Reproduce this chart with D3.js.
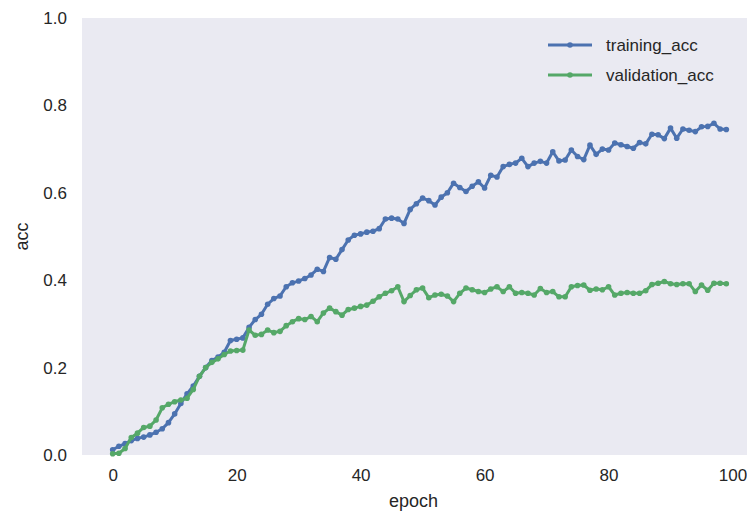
<!DOCTYPE html>
<html>
<head>
<meta charset="utf-8">
<script src="https://cdn.jsdelivr.net/npm/d3@7"></script>
<style>
  body { margin: 0; background: #fff; }
  text { font-family: "Liberation Sans", Arial, sans-serif; fill: #262626; }
</style>
</head>
<body>
<script>
var w = 747; // Width of the picture
var h = 515; // Height of the picture

// Data (epochs 0..99)
var epochs = d3.range(100);
var trainingAcc = [
  0.012, 0.020, 0.026, 0.033, 0.038, 0.041, 0.046, 0.052, 0.060, 0.074,
  0.094, 0.118, 0.140, 0.158, 0.180, 0.200, 0.216, 0.224, 0.235, 0.262,
  0.265, 0.268, 0.292, 0.310, 0.322, 0.345, 0.358, 0.364, 0.385, 0.394,
  0.398, 0.404, 0.412, 0.425, 0.420, 0.452, 0.448, 0.470, 0.492, 0.503,
  0.506, 0.510, 0.512, 0.518, 0.540, 0.542, 0.540, 0.530, 0.562, 0.575,
  0.588, 0.582, 0.572, 0.590, 0.600, 0.622, 0.612, 0.603, 0.615, 0.625,
  0.611, 0.640, 0.636, 0.660, 0.665, 0.668, 0.679, 0.660, 0.668, 0.672,
  0.668, 0.694, 0.673, 0.675, 0.698, 0.683, 0.676, 0.709, 0.688, 0.700,
  0.698, 0.714, 0.710, 0.706, 0.702, 0.715, 0.712, 0.734, 0.733, 0.724,
  0.748, 0.725, 0.746, 0.743, 0.740, 0.751, 0.752, 0.759, 0.746, 0.745
];
var validationAcc = [
  0.003, 0.004, 0.015, 0.040, 0.050, 0.063, 0.066, 0.080, 0.108, 0.116,
  0.122, 0.126, 0.130, 0.150, 0.180, 0.200, 0.212, 0.220, 0.230, 0.238,
  0.239, 0.240, 0.286, 0.274, 0.276, 0.286, 0.280, 0.283, 0.296, 0.305,
  0.312, 0.310, 0.317, 0.305, 0.325, 0.336, 0.328, 0.320, 0.333, 0.336,
  0.340, 0.343, 0.352, 0.362, 0.370, 0.376, 0.385, 0.351, 0.365, 0.378,
  0.382, 0.360, 0.366, 0.368, 0.364, 0.351, 0.370, 0.382, 0.378, 0.374,
  0.372, 0.380, 0.385, 0.374, 0.385, 0.370, 0.372, 0.370, 0.366, 0.381,
  0.372, 0.374, 0.362, 0.362, 0.385, 0.388, 0.389, 0.377, 0.380, 0.378,
  0.385, 0.366, 0.370, 0.372, 0.370, 0.370, 0.376, 0.390, 0.393, 0.397,
  0.392, 0.390, 0.392, 0.392, 0.374, 0.389, 0.377, 0.393, 0.393, 0.392
];
var seriesNames = ["training_acc", "validation_acc"];
var seriesColors = ["#4C72B0", "#55A868"];
var xTicks = [0, 20, 40, 60, 80, 100];
var yTicks = [0.0, 0.2, 0.4, 0.6, 0.8, 1.0];

// Plot area (right edge runs past the picture, as in the reference)
var plotLeft = 82, plotRight = 757, plotTop = 18, plotBottom = 455;

var xScale = d3.scaleLinear()
    .domain([-4.95, 103.95])
    .range([plotLeft, plotRight]);

var yScale = d3.scaleLinear()
    .domain([0, 1])
    .range([plotBottom, plotTop]);

var svg = d3.select("body")
    .append("svg")
    .attr("width", w)
    .attr("height", h);

// Background of the axes
svg.append("rect")
    .attr("x", plotLeft)
    .attr("y", plotTop)
    .attr("width", plotRight - plotLeft)
    .attr("height", plotBottom - plotTop)
    .attr("fill", "#EAEAF2");

// Axes without tick marks or domain lines
var xAxis = d3.axisBottom(xScale)
    .tickValues(xTicks)
    .tickSize(0)
    .tickPadding(14)
    .tickFormat(d3.format("d"));

var yAxis = d3.axisLeft(yScale)
    .tickValues(yTicks)
    .tickSize(0)
    .tickPadding(15)
    .tickFormat(d3.format(".1f"));

svg.append("g")
    .attr("class", "x-axis")
    .attr("transform", "translate(0," + plotBottom + ")")
    .call(xAxis)
    .call(function(g) { g.select(".domain").remove(); });

svg.append("g")
    .attr("class", "y-axis")
    .attr("transform", "translate(" + plotLeft + ",0)")
    .call(yAxis)
    .call(function(g) { g.select(".domain").remove(); });

svg.selectAll(".x-axis text, .y-axis text")
    .attr("fill", "#262626")
    .style("font-size", "17px")
    .style("font-family", "'Liberation Sans', Arial, sans-serif");

// Axis labels
svg.append("text")
    .attr("text-anchor", "middle")
    .attr("x", (plotLeft + plotRight) / 2 - 6)
    .attr("y", 507)
    .style("font-size", "18px")
    .text("epoch");

svg.append("text")
    .attr("text-anchor", "middle")
    .attr("transform", "rotate(-90)")
    .attr("x", -(plotTop + plotBottom) / 2)
    .attr("y", 28)
    .style("font-size", "18px")
    .text("acc");

// Lines with point markers
var series = [trainingAcc, validationAcc];
var line = d3.line()
    .x(function(d, i) { return xScale(epochs[i]); })
    .y(function(d) { return yScale(d); });

series.forEach(function(values, s) {
    svg.append("path")
        .datum(values)
        .attr("fill", "none")
        .attr("stroke", seriesColors[s])
        .attr("stroke-width", 3)
        .attr("stroke-linejoin", "round")
        .attr("d", line);

    svg.append("g")
        .selectAll("circle")
        .data(values)
        .join("circle")
        .attr("cx", function(d, i) { return xScale(epochs[i]); })
        .attr("cy", function(d) { return yScale(d); })
        .attr("r", 2.8)
        .attr("fill", seriesColors[s]);
});

// Legend
var legend = svg.append("g")
    .attr("transform", "translate(548,45)");

seriesNames.forEach(function(name, s) {
    var g = legend.append("g")
        .attr("transform", "translate(0," + (s * 30) + ")");
    g.append("line")
        .attr("x1", 0).attr("x2", 44)
        .attr("y1", 0).attr("y2", 0)
        .attr("stroke", seriesColors[s])
        .attr("stroke-width", 3);
    g.append("circle")
        .attr("cx", 22).attr("cy", 0)
        .attr("r", 2.8)
        .attr("fill", seriesColors[s]);
    g.append("text")
        .attr("x", 58)
        .attr("y", 0)
        .attr("dy", "0.35em")
        .style("font-size", "17px")
        .text(name);
});
</script>
</body>
</html>
